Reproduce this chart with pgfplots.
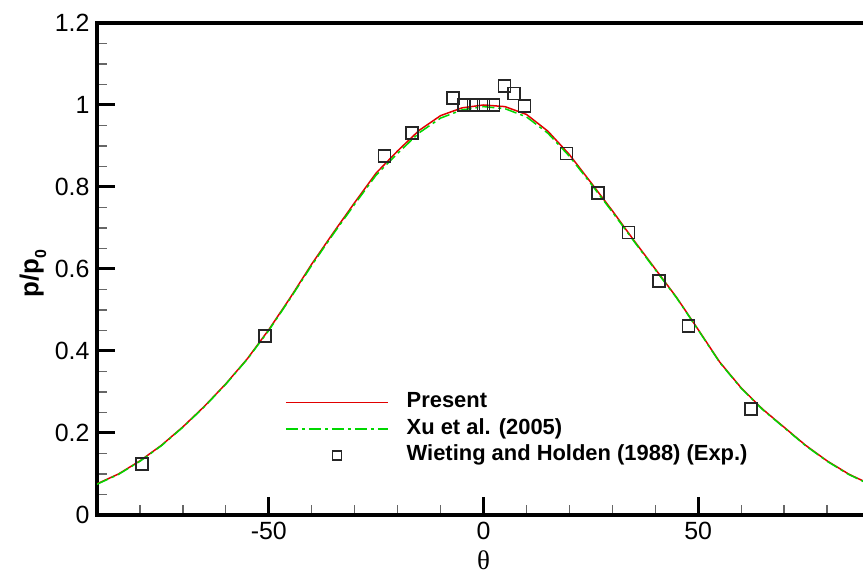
\documentclass[border=0pt]{standalone}
\usepackage{pgfplots}
\usepackage{pgfplotstable}
\pgfplotsset{compat=1.18}
\usepackage{fontspec}
\setmainfont{Liberation Sans}
\newfontfamily\seriffont{Liberation Serif}
\definecolor{pred}{RGB}{225,0,0}
\definecolor{pgreen}{RGB}{0,215,0}

\pgfplotsset{
  lineleg/.style={legend image code/.code={\draw[##1] (0bp,0bp) -- (102bp,0bp);}},
  markleg/.style={legend image code/.code={\draw[mark repeat=2, mark phase=2, ##1, mark size=4.5bp] plot coordinates {(0bp,0bp) (51bp,0bp) (102bp,0bp)};}},
}

\pgfplotstableread{
t y
-90 0.076
-85 0.100
-80 0.132
-75 0.170
-70 0.215
-65 0.265
-60 0.320
-55 0.381
-50 0.452
-45 0.530
-40 0.612
-35 0.688
-30 0.762
-25 0.834
-20 0.888
-15 0.938
-10 0.974
-5 0.993
0 1.000
5 0.996
10 0.977
15 0.936
20 0.879
25 0.811
30 0.742
35 0.670
40 0.600
45 0.530
50 0.452
55 0.373
60 0.310
65 0.258
70 0.214
75 0.170
80 0.132
85 0.100
90 0.075
}\present

\pgfplotstableread{
t y
-90 0.075
-85 0.099
-80 0.131
-75 0.169
-70 0.214
-65 0.264
-60 0.319
-55 0.380
-50 0.450
-45 0.528
-40 0.609
-35 0.685
-30 0.758
-25 0.829
-20 0.882
-15 0.932
-10 0.968
-5 0.988
0 0.996
5 0.991
10 0.971
15 0.931
20 0.875
25 0.808
30 0.739
35 0.668
40 0.598
45 0.529
50 0.451
55 0.372
60 0.309
65 0.257
70 0.213
75 0.169
80 0.131
85 0.099
90 0.074
}\xu

\pgfplotstableread{
t y
-79.5 0.125
-50.9 0.437
-23.1 0.876
-16.7 0.932
-7.1 1.017
-4.6 1.000
-2.3 1.000
0.0 1.000
2.3 1.000
4.9 1.046
7.05 1.028
9.5 0.998
19.3 0.882
26.6 0.785
33.8 0.689
40.8 0.571
47.7 0.461
62.3 0.259
}\expdata

\begin{document}
\begin{tikzpicture}[x=1bp,y=1bp]
\path[use as bounding box] (0,0) rectangle (863,578);
\begin{axis}[
  at={(97bp,63bp)}, anchor=south west,
  scale only axis, width=773bp, height=492bp,
  xmin=-90, xmax=90, ymin=0, ymax=1.2,
  xtick={-50,0,50},
  minor xtick={-80,-70,-60,-40,-30,-20,-10,10,20,30,40,60,70,80},
  ytick={0,0.2,0.4,0.6,0.8,1,1.2},
  minor ytick={0.05,0.1,0.15,0.25,0.3,0.35,0.45,0.5,0.55,0.65,0.7,0.75,0.85,0.9,0.95,1.05,1.1,1.15},
  tick align=inside, xtick pos=bottom, ytick pos=left,
  major tick length=18bp, minor tick length=10bp,
  every major tick/.append style={line width=3bp, black},
  every minor tick/.append style={line width=1.3bp, black!60},
  axis line style={line width=3.2bp},
  tick label style={font=\fontsize{25}{25}\selectfont},
  xticklabel style={yshift=-4bp},
  yticklabel style={xshift=-4bp},
  /pgf/number format/assume math mode=true,
  xlabel={\seriffont θ},
  x label style={at={(axis description cs:0.5,-0.0915)}, anchor=center, font=\fontsize{27}{27}\selectfont},
  ylabel={\bfseries p/p\raisebox{-0.3em}{\fontsize{16}{16}\selectfont\bfseries 0}},
  y label style={at={(axis description cs:-0.083,0.49)}, anchor=center, font=\fontsize{26}{26}\selectfont},
  legend style={at={(axis description cs:0.2432,0.1748)}, anchor=west, draw=none, fill=none,
    inner sep=0pt, column sep=18bp, row sep=5.5bp,
    nodes={inner sep=0pt, text height=16bp, text depth=5bp},
    font=\bfseries\fontsize{22}{24}\selectfont},
  legend cell align=left,
]
\addplot[pred, line width=1.5bp, lineleg] table[x=t,y=y] {\present};
\addlegendentry{Present}
\addplot[pgreen, line width=1.5bp, dash pattern=on 12bp off 4bp on 3bp off 4bp, lineleg] table[x=t,y=y] {\xu};
\addlegendentry{Xu et al. (2005)}
\addplot[only marks, mark=square, mark size=6bp, black!85, mark options={line width=1.6bp}, markleg] table[x=t,y=y] {\expdata};
\addlegendentry{Wieting and Holden (1988) (Exp.)}
\end{axis}
\end{tikzpicture}
\end{document}
